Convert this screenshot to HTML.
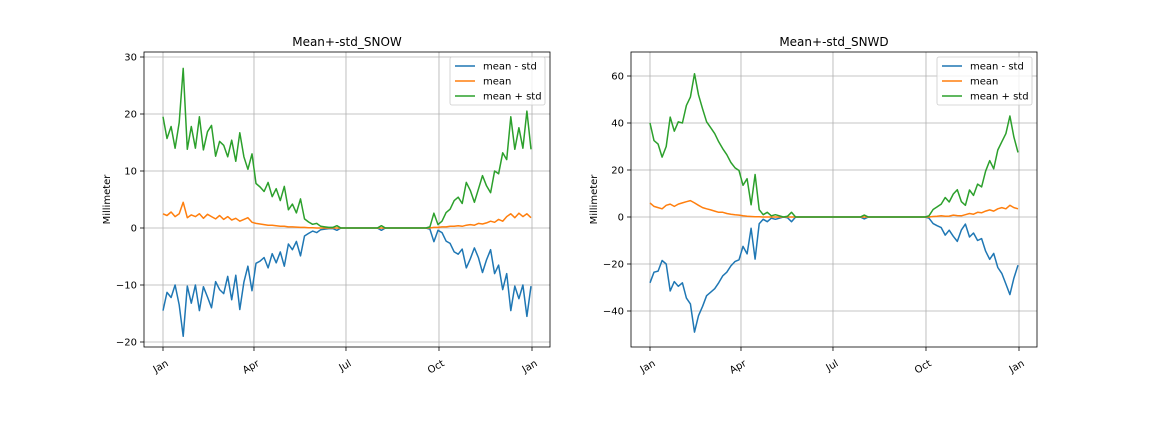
<!DOCTYPE html>
<html><head><meta charset="utf-8">
<style>
html,body{margin:0;padding:0;background:#fff;}
svg{display:block;font-family:"DejaVu Sans","Liberation Sans",sans-serif;}
</style></head>
<body>
<svg id="fig" width="1152" height="432" viewBox="0 0 1152 432" xmlns="http://www.w3.org/2000/svg"></svg>
<script>
const days = Array.from({length:92},(_,i)=>i*4);
const monthTicks = [0,90,181,273,365];
const monthLabels = ["Jan","Apr","Jul","Oct","Jan"];
const snowMean = [2.5,2.2,2.8,2,2.5,4.5,1.8,2.3, 2,2.5,1.7,2.4,2,1.6,2.2,1.5, 2,1.4,1.7,1.2,1.5,1.8,1,0.8, 0.7,0.6,0.5,0.5,0.4,0.3,0.3,0.2, 0.2,0.15,0.1,0.1,0.05,0.05,0,0, 0,0,0,0,0,0,0,0, 0,0,0,0,0,0,0,0, 0,0,0,0,0,0,0,0, 0,0,0,0.1,0.1,0.2,0.2,0.3, 0.3,0.4,0.3,0.5,0.6,0.5,0.8,0.7, 0.9,1.2,1,1.5,1.2,2,2.5,1.8, 2.6,2,2.5,1.8];
const snowStd = [17,13.5,15,12,16,23.5,12,15.5, 12,17,12,14.5,16,11,13,13, 10.5,14,10,15.5,11,8.5,12,7, 6.5,5.8,7.5,5,6.5,4.5,7,3, 4,2.5,5,1.5,1,0.6,0.8,0.3, 0.2,0.1,0.1,0.4,0,0,0,0, 0,0,0,0,0,0,0.4,0, 0,0,0,0,0,0,0,0, 0,0,0.2,2.5,0.5,1,2.5,3, 4.5,5,4,7.5,6,4,6,8.5, 6.5,5,9,8,12,10,17,12, 15,12,18,12];
const snwdMean = [6,4.5,4,3.5,5,5.5,4.5,5.5, 6,6.5,7,6,5,4,3.5,3, 2.5,2,2,1.5,1.2,1,0.8,0.5, 0.3,0.2,0.1,0.1,0,0,0,0, 0,0,0,0,0,0,0,0, 0,0,0,0,0,0,0,0, 0,0,0,0,0,0,0,0, 0,0,0,0,0,0,0,0, 0,0,0,0,0,0,0.2,0.3, 0.5,0.3,0.4,0.8,0.6,0.5,1,1.5, 1.2,2,1.8,2.5,3,2.5,3.5,4, 3.5,5,4,3.5];
const snwdStd = [34,28,27,22,25,37,32,35, 34,41,44,55,47,42,37,35, 33,30,27,25,22,20,19,13, 16,5,18,3,1,2,0.5,1, 0.5,0,0.3,2,0,0,0,0, 0,0,0,0,0,0,0,0, 0,0,0,0,0,0.8,0,0, 0,0,0,0,0,0,0,0, 0,0,0,0,0,0.5,3,4, 5,8,6,9,11,6,4,10, 8,12,11,17,21,18,25,28, 32,38,30,24];
const snowTicks = [30,20,10,0,-10,-20];
const snwdTicks = [60,40,20,0,-20,-40];

const NS="http://www.w3.org/2000/svg";
const svg=document.getElementById('fig');
function mk(tag,attrs,parent){const e=document.createElementNS(NS,tag);for(const k in attrs)e.setAttribute(k,attrs[k]);(parent||svg).appendChild(e);return e;}

function panel(cfg){
  const g=mk('g',{});
  
  
  const L=cfg.left,R=cfg.left+406,T=52,B=347;
  const xs=d=>cfg.left+19+d*369/365;
  const ys=v=>cfg.y0+(v-cfg.v0)*cfg.k;
  monthTicks.forEach((d,i)=>{
    const gl=mk('line',{x1:xs(d),x2:xs(d),y1:T,y2:B,stroke:'#b0b0b0','stroke-width':0.8},g);
    
    
    mk('line',{x1:xs(d),x2:xs(d),y1:B,y2:B+4,stroke:'#000','stroke-width':0.8},g);
    const t=mk('text',{x:xs(d)+3,y:B+19,'font-size':10,'text-anchor':'end',transform:`rotate(-30 ${xs(d)+3} ${B+13})`},g);
    t.textContent=monthLabels[i];
    
    
  });
  cfg.ticks.forEach(v=>{
    const gl=mk('line',{x1:L,x2:R,y1:ys(v),y2:ys(v),stroke:'#b0b0b0','stroke-width':0.8},g);
    
    
    mk('line',{x1:L-4,x2:L,y1:ys(v),y2:ys(v),stroke:'#000','stroke-width':0.8},g);
    const t=mk('text',{x:L-7,y:ys(v)+3.5,'font-size':10,'text-anchor':'end'},g);
    t.textContent=(v<0?'\u2212'+(-v):v);
    
    
  });
  const series=[
    {n:'mean-minus-std-line',c:'#1f77b4',f:i=>cfg.mean[i]-cfg.std[i]},
    {n:'mean-line',c:'#ff7f0e',f:i=>cfg.mean[i]},
    {n:'mean-plus-std-line',c:'#2ca02c',f:i=>cfg.mean[i]+cfg.std[i]}];
  series.forEach(s=>{
    const p=days.map((d,i)=>(i?'L':'M')+xs(d).toFixed(1)+','+ys(s.f(i)).toFixed(1)).join('');
    const e=mk('path',{d:p,fill:'none',stroke:s.c,'stroke-width':1.5,'stroke-linejoin':'round'},g);
    
    
  });
  mk('rect',{x:L,y:T,width:406,height:295,fill:'none',stroke:'#000','stroke-width':0.8},g);
  const ti=mk('text',{x:(L+R)/2,y:T-6,'font-size':12,'text-anchor':'middle'},g);
  ti.textContent=cfg.title;
  
  
  const yl=mk('text',{x:0,y:0,'font-size':10,'text-anchor':'middle',transform:`translate(${L-34},${(T+B)/2}) rotate(-90)`},g);
  yl.textContent='Millimeter';
  
  
  const lg=mk('g',{},g);
  
  
  const lx=R-100;
  mk('rect',{x:lx,y:57,width:95,height:48,rx:2,fill:'#fff','fill-opacity':0.8,stroke:'#ccc','stroke-width':0.8},lg);
  ['mean - std','mean','mean + std'].forEach((lab,i)=>{
    const y=66+i*15;
    mk('line',{x1:lx+5,x2:lx+25,y1:y,y2:y,stroke:series[i].c,'stroke-width':1.5},lg);
    const t=mk('text',{x:lx+33,y:y+3.5,'font-size':10},lg);
    t.textContent=lab;
    
    
  });
}
panel({name:'snow-chart',left:144,title:'Mean+-std_SNOW',mean:snowMean,std:snowStd,ticks:snowTicks,y0:228,v0:0,k:-5.7});
panel({name:'snwd-chart',left:631,title:'Mean+-std_SNWD',mean:snwdMean,std:snwdStd,ticks:snwdTicks,y0:217,v0:0,k:-2.35});
</script>
</body></html>
